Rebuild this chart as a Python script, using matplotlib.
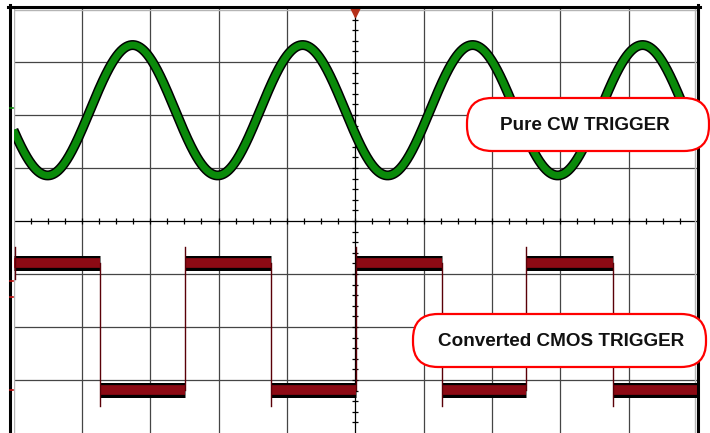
import numpy as np
import matplotlib.pyplot as plt
from matplotlib.patches import FancyBboxPatch
from matplotlib.lines import Line2D
from matplotlib.transforms import IdentityTransform

W, H = 710, 433

# CW trigger (sine), screen divisions
sine_period = 2.487
sine_peak_x = 4.23
sine_mid = 6.09
sine_amp = 1.23

# CMOS trigger (square), edge times in divisions and state of each segment
sq_edges = [0.0, 1.266, 2.509, 3.767, 5.011, 6.269, 7.498, 8.772, 10.0]
sq_states = [1, 0, 1, 0, 1, 0, 1, 0]
sq_high = 3.21
sq_low = 0.81
sq_overshoot = 0.30

labels = ["Pure CW TRIGGER", "Converted CMOS TRIGGER"]

fig = plt.figure(figsize=(W / 100, H / 100), dpi=100)
ax = fig.add_axes([13.5 / W, 0, 683.5 / W, 424 / H])
ax.set_xlim(0, 10)
ax.set_ylim(0, 8)
ax.axis('off')

# graticule
for i in range(1, 10):
    ax.axvline(i, color='black' if i == 5 else '#454545', lw=0.9, zorder=1)
for j in range(1, 8):
    ax.axhline(j, color='black' if j == 4 else '#454545', lw=0.9, zorder=1)
ax.axvline(0.01, color='#b5b5b5', lw=1.0, zorder=1)
ax.axvline(9.97, color='#b5b5b5', lw=1.0, zorder=1)
ax.axhline(7.99, color='#b5b5b5', lw=1.0, zorder=1)

# minor ticks on centre lines
ax.plot(np.full(39, 5.0), np.arange(1, 40) * 0.2, ls='none', marker='_',
        ms=4.5, mew=0.9, color='black', zorder=2)
ax.plot(np.arange(1, 40) * 0.25, np.full(39, 4.0), ls='none', marker='|',
        ms=4.5, mew=0.9, color='black', zorder=2)

# trigger position marker
ax.plot([5], [7.94], marker='v', ms=7, color='#b5301a', mec='#b5301a',
        clip_on=False, zorder=5)

# sine trace
x = np.linspace(0, 10, 2000)
y = sine_mid + sine_amp * np.cos(2 * np.pi * (x - sine_peak_x) / sine_period)
ax.plot(x, y, color='black', lw=7.2, solid_capstyle='butt', zorder=3)
ax.plot(x, y, color='#0a8a0a', lw=5.0, solid_capstyle='butt', zorder=3)

# square trace
for k, st in enumerate(sq_states):
    x0, x1 = sq_edges[k], sq_edges[k + 1]
    lvl = sq_high if st else sq_low
    ax.plot([x0, x1], [lvl, lvl], color='black', lw=10.8,
            solid_capstyle='butt', zorder=3)
    ax.plot([x0, x1], [lvl, lvl], color='#8c0a14', lw=7.0,
            solid_capstyle='butt', zorder=3)
for k in range(1, len(sq_states)):
    e = sq_edges[k]
    if sq_states[k]:
        ax.plot([e, e], [sq_low, sq_high + sq_overshoot], color='#5a0008',
                lw=1.0, zorder=4)
    else:
        ax.plot([e, e], [sq_low - sq_overshoot, sq_high], color='#5a0008',
                lw=1.0, zorder=4)
ax.plot([0.02, 0.02], [sq_high - 0.3, sq_high + sq_overshoot],
        color='#5a0008', lw=1.0, zorder=4)

# outer frame
ident = IdentityTransform()
for xs, ys in [([9.5, 9.5], [H - 5, 0]), ([8, 699.5], [H - 6.5, H - 6.5]),
               ([698, 698], [H - 5, 0])]:
    fig.add_artist(Line2D(xs, ys, color='black', lw=2.2, transform=ident))

# channel markers at left edge
for yy, c in [(108, '#0a8a0a'), (281, '#c01010'), (297, '#c01010'), (390, '#c01010')]:
    fig.add_artist(Line2D([10, 13], [H - yy, H - yy], color=c, lw=1.2,
                          transform=ident))

# labels
boxes = [(467, 98, 242, 53, 585, 125), (413, 314, 293, 53, 561, 341)]
for (bx, by, bw, bh, tx, ty), txt in zip(boxes, labels):
    fig.add_artist(FancyBboxPatch((bx, H - by - bh), bw, bh,
                                  boxstyle='round,pad=0,rounding_size=25',
                                  fc='white', ec='#ff0000', lw=1.6,
                                  transform=ident, zorder=6))
    fig.text(tx, H - ty, txt, transform=ident, ha='center', va='center',
             family='Liberation Sans', weight='bold', fontsize=13.6,
             color='#111111', zorder=7)

fig.savefig('out.png', dpi=100)
